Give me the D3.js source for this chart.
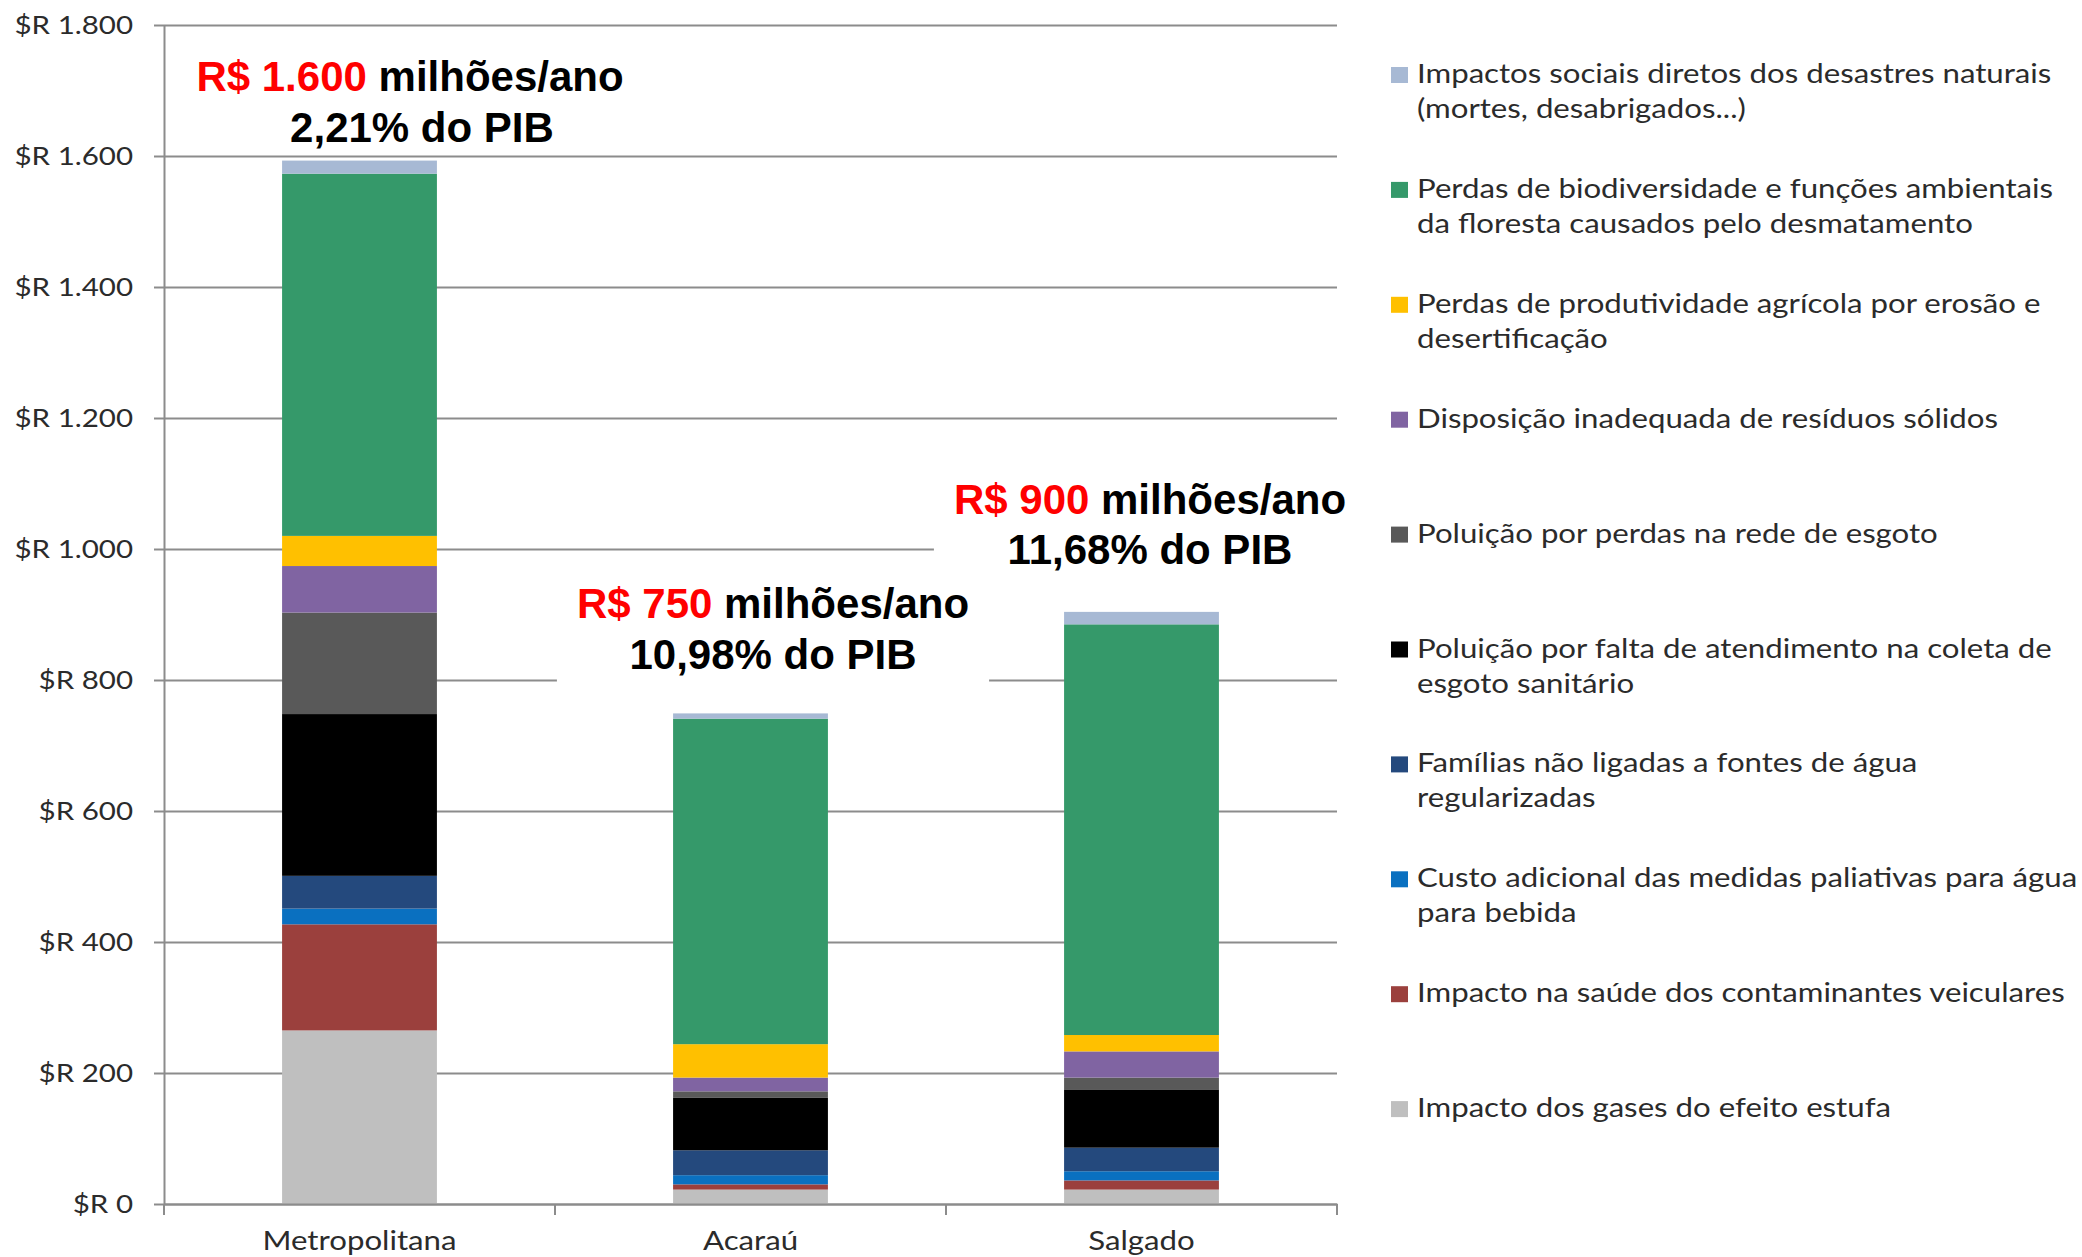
<!DOCTYPE html>
<html lang="pt">
<head>
  <meta charset="UTF-8" />
  <title>Custos da degradação ambiental por região</title>
  <script src="https://d3js.org/d3.v7.min.js"></script>
  <style>
    body {
      margin: 0;
      background-color: white;
    }

    svg {
      display: block;
      background-color: white;
    }

    .axis text,
    .legend text {
      font-family: Lato, 'Open Sans', sans-serif;
      font-size: 25px;
      fill: #2b2b2b;
    }

    .legend text,
    .axis.x text {
      font-size: 26px;
    }

    .axis path,
    .axis line,
    .grid line {
      stroke: #8c8c8c;
      stroke-width: 2;
    }

    .grid path {
      display: none;
    }

    .ann {
      font-family: 'Liberation Sans', Arial, sans-serif;
      font-weight: bold;
      font-size: 42px;
      white-space: pre;
    }
  </style>
</head>

<body>
  <script>
    // categories
    const regions = ['Metropolitana', 'Acaraú', 'Salgado'];

    // series, bottom of the stack first (R$ milhões/ano)
    const gases = [265, 22, 22];
    const saude = [162, 8, 14];
    const paliativas = [24, 14, 14];
    const familias = [50, 38, 36];
    const coleta = [247, 80, 89];
    const redeEsgoto = [155, 10, 18];
    const residuos = [71, 21, 40];
    const erosao = [46, 51, 25];
    const biodiversidade = [553, 497, 627];
    const desastres = [20, 8, 19];

    const seriesValues = [gases, saude, paliativas, familias, coleta, redeEsgoto, residuos, erosao, biodiversidade, desastres];

    const seriesNames = [
      'Impacto dos gases do efeito estufa',
      'Impacto na saúde dos contaminantes veiculares',
      'Custo adicional das medidas paliativas para água\npara bebida',
      'Famílias não ligadas a fontes de água\nregularizadas',
      'Poluição por falta de atendimento na coleta de\nesgoto sanitário',
      'Poluição por perdas na rede de esgoto',
      'Disposição inadequada de resíduos sólidos',
      'Perdas de produtividade agrícola por erosão e\ndesertificação',
      'Perdas de biodiversidade e funções ambientais\nda floresta causados pelo desmatamento',
      'Impactos sociais diretos dos desastres naturais\n(mortes, desabrigados...)'
    ];

    const seriesColors = ['#bfbfbf', '#9b403d', '#0a70c0', '#24497d', '#000000', '#595959', '#8064a2', '#ffc000', '#35996a', '#a7b9d4'];

    // y axis ticks
    const yTicks = [0, 200, 400, 600, 800, 1000, 1200, 1400, 1600, 1800];
    const yTickLabels = ['$R 0', '$R 200', '$R 400', '$R 600', '$R 800', '$R 1.000', '$R 1.200', '$R 1.400', '$R 1.600', '$R 1.800'];

    // annotations above the bars
    const totalsText = ['R$ 1.600', 'R$ 750', 'R$ 900'];
    const pibText = ['2,21%', '10,98%', '11,68%'];

    const w = 2082;
    const h = 1257;
    const plotLeft = 164;
    const plotRight = 1337;
    const plotTop = 25;
    const plotBottom = 1204;
    const stretch = 1.18; // the original slide text is wider than it is tall
    const stretchLegend = 1.2;

    const svg = d3.select('body')
      .append('svg')
      .attr('width', w)
      .attr('height', h);

    const x = d3.scaleBand()
      .domain(regions)
      .range([plotLeft, plotRight])
      .padding(0);

    const barW = x.bandwidth() * 0.396;

    const y = d3.scaleLinear()
      .domain([0, 1800])
      .range([plotBottom, plotTop]);

    // gridlines
    svg.append('g')
      .attr('class', 'grid')
      .attr('transform', `translate(${plotLeft},0)`)
      .call(d3.axisLeft(y).tickValues(yTicks).tickSize(-(plotRight - plotLeft)).tickFormat(''));

    // white boxes behind two of the annotations (they hide the gridlines)
    const annPos = [
      { cx1: 410, cx2: 422, y1: 91, y2: 142, box: false },
      { cx1: 773, cx2: 773, y1: 618, y2: 669, box: true },
      { cx1: 1150, cx2: 1150, y1: 514, y2: 564, box: true }
    ];

    const annBoxes = svg.append('g');

    // stacked bars
    const rows = regions.map((r, i) => {
      const row = { region: r };
      seriesValues.forEach((s, k) => row[k] = s[i]);
      return row;
    });

    const stacked = d3.stack().keys(d3.range(seriesValues.length))(rows);

    svg.append('g')
      .selectAll('g')
      .data(stacked)
      .join('g')
      .attr('fill', (d, i) => seriesColors[i])
      .selectAll('rect')
      .data(d => d)
      .join('rect')
      .attr('x', d => x(d.data.region) + (x.bandwidth() - barW) / 2)
      .attr('y', d => y(d[1]))
      .attr('width', barW)
      .attr('height', d => y(d[0]) - y(d[1]));

    // y axis
    const yAxis = svg.append('g')
      .attr('class', 'axis y')
      .attr('transform', `translate(${plotLeft},0)`)
      .call(d3.axisLeft(y).tickValues(yTicks).tickSizeInner(10).tickSizeOuter(0)
        .tickFormat((d, i) => yTickLabels[i]));

    yAxis.selectAll('text')
      .attr('x', 0)
      .attr('dy', '0.35em')
      .attr('transform', `translate(-31,0) scale(${stretch},1)`);

    // x axis
    const xAxis = svg.append('g')
      .attr('class', 'axis x')
      .attr('transform', `translate(0,${plotBottom})`)
      .call(d3.axisBottom(x).tickSize(0).tickPadding(0));

    xAxis.selectAll('text')
      .attr('y', 0)
      .attr('dy', 0)
      .attr('transform', `translate(0,46) scale(${stretchLegend},1)`);

    const edges = regions.map(r => x(r)).concat([plotRight]);
    xAxis.selectAll('.edge')
      .data(edges)
      .join('line')
      .attr('class', 'edge')
      .attr('x1', d => d)
      .attr('x2', d => d)
      .attr('y1', 0)
      .attr('y2', 11);

    // annotations
    const ann = svg.append('g');
    regions.forEach((r, i) => {
      const p = annPos[i];
      const g = ann.append('g');
      const t1 = g.append('text')
        .attr('class', 'ann')
        .attr('x', p.cx1)
        .attr('y', p.y1)
        .attr('text-anchor', 'middle');
      t1.append('tspan').attr('fill', '#ff0000').text(totalsText[i]);
      t1.append('tspan').attr('fill', '#000000').text(' milhões/ano');
      g.append('text')
        .attr('class', 'ann')
        .attr('x', p.cx2)
        .attr('y', p.y2)
        .attr('text-anchor', 'middle')
        .attr('fill', '#000000')
        .text(`${pibText[i]} do PIB`);

      if (p.box) {
        const bb = g.node().getBBox();
        annBoxes.append('rect')
          .attr('x', bb.x - 20)
          .attr('y', bb.y - 10)
          .attr('width', bb.width + 40)
          .attr('height', bb.height + 14)
          .attr('fill', 'white');
      }
    });

    // legend, top of the stack first
    const legend = svg.append('g')
      .attr('class', 'legend')
      .attr('transform', 'translate(1391,0)');

    const order = d3.range(seriesNames.length).reverse();
    order.forEach((k, j) => {
      const base = 83 + j * 114.9;
      legend.append('rect')
        .attr('x', 0)
        .attr('y', base - 16)
        .attr('width', 17)
        .attr('height', 16)
        .attr('fill', seriesColors[k]);
      seriesNames[k].split('\n').forEach((line, li) => {
        legend.append('text')
          .attr('transform', `translate(26,${base + li * 35}) scale(${stretchLegend},1)`)
          .text(line);
      });
    });
  </script>
</body>

</html>
